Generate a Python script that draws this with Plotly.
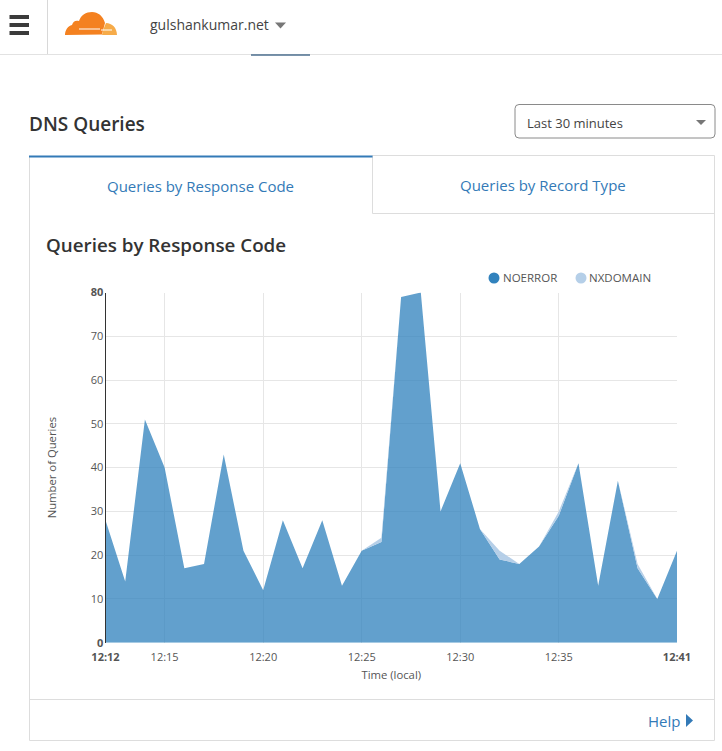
import plotly.graph_objects as go

W = 722
H = 751

minutes = ["12:12", "12:13", "12:14", "12:15", "12:16", "12:17", "12:18", "12:19", "12:20", "12:21",
           "12:22", "12:23", "12:24", "12:25", "12:26", "12:27", "12:28", "12:29", "12:30", "12:31",
           "12:32", "12:33", "12:34", "12:35", "12:36", "12:37", "12:38", "12:39", "12:40", "12:41"]
noerror = [28, 14, 51, 40, 17, 18, 43, 21, 12, 28,
           17, 28, 13, 21, 23, 79, 80, 30, 41, 26,
           19, 18, 22, 29, 41, 13, 37, 17, 10, 21]
nxdomain = [0, 0, 0, 0, 0, 0, 0, 0, 0, 0,
            0, 0, 0, 0, 1, 0, 0, 0, 0, 0,
            2, 0, 0, 1, 0, 0, 0, 1, 0, 0]
x_ticks = ["12:12", "12:15", "12:20", "12:25", "12:30", "12:35", "12:41"]
x_tick_labels = ["<b>12:12</b>", "12:15", "12:20", "12:25", "12:30", "12:35", "<b>12:41</b>"]
x_grid = ["12:15", "12:20", "12:25", "12:30", "12:35"]
y_ticks = [0, 10, 20, 30, 40, 50, 60, 70, 80]
y_tick_labels = ["<b>0</b>", "10", "20", "30", "40", "50", "60", "70", "<b>80</b>"]

FONT = "Open Sans"
BLUE = "#337ab7"
DARK = "#333333"
BORDER = "#dddddd"
NOERROR_KEY = "#3182bd"
NXDOMAIN_KEY = "#b5cfe8"


def t(m):
    return "2021-01-01 " + m


def px(x):
    return x / W


def py(y):
    return 1 - y / H


def line(x0, y0, x1, y1, color=BORDER, width=1):
    return dict(type="line", xref="paper", yref="paper", x0=px(x0), y0=py(y0), x1=px(x1), y1=py(y1),
                line=dict(color=color, width=width), layer="below")


def rect(x0, y0, x1, y1, color):
    return dict(type="rect", xref="paper", yref="paper", x0=px(x0), y0=py(y0), x1=px(x1), y1=py(y1),
                fillcolor=color, line=dict(width=0))


def dot(cx, cy, r, color):
    return dict(type="circle", xref="paper", yref="paper", x0=px(cx - r), y0=py(cy + r), x1=px(cx + r), y1=py(cy - r),
                fillcolor=color, line=dict(width=0))


def path(points, color):
    # points in page pixels, straight segments
    d = "M " + " L ".join(f"{px(a):.5f},{py(b):.5f}" for a, b in points) + " Z"
    return dict(type="path", xref="paper", yref="paper", path=d, fillcolor=color, line=dict(width=0))


def curve(d, color):
    # d holds tuples of (command, x, y, ...) in page pixels
    out = []
    for seg in d:
        nums = seg[1:]
        pairs = [f"{px(nums[i]):.5f},{py(nums[i + 1]):.5f}" for i in range(0, len(nums), 2)]
        out.append(seg[0] + " " + " ".join(pairs))
    return dict(type="path", xref="paper", yref="paper", path=" ".join(out) + " Z",
                fillcolor=color, line=dict(width=0))


def label(x, y, text, size=14, color=DARK, anchor="left", weight=400):
    return dict(xref="paper", yref="paper", x=px(x), y=py(y), text=text, showarrow=False,
                xanchor=anchor, yanchor="middle", font=dict(family=FONT, size=size, color=color, weight=weight))


fig = go.Figure()
fig.add_trace(go.Scatter(x=[t(m) for m in minutes], y=noerror, name="NOERROR", mode="lines",
                         stackgroup="one", line=dict(width=0, color=NOERROR_KEY),
                         fillcolor="rgba(49,130,189,0.76)"))
fig.add_trace(go.Scatter(x=[t(m) for m in minutes], y=nxdomain, name="NXDOMAIN", mode="lines",
                         stackgroup="one", line=dict(width=0, color=NXDOMAIN_KEY),
                         fillcolor="rgba(174,202,230,0.9)"))

shapes = [
    # header
    line(0, 54.5, W, 54.5, "#e2e2e2"),
    line(47.5, 0, 47.5, 54, "#d8d8d8"),
    line(251, 55, 310, 55, "#4d6f8f", 1.5),
    rect(9.5, 15, 29, 19, "#3b3b3b"),
    rect(9.5, 23, 29, 27, "#3b3b3b"),
    rect(9.5, 31, 29, 35, "#3b3b3b"),
    # logo
    curve([("M", 65, 35), ("C", 65, 30, 68, 26, 72, 25), ("C", 73, 21, 76, 20, 79, 21),
           ("C", 81, 15, 86, 12, 92, 12), ("C", 98, 12, 103, 16, 105, 23),
           ("L", 102, 34.5), ("L", 65, 35)], "#f48120"),
    curve([("M", 102, 35), ("C", 103, 31, 104, 27, 106, 23), ("C", 112, 23, 117, 28, 117, 35)], "#f6ab49"),
    rect(79, 28.5, 100, 29.5, "#ffffff"),
    rect(101, 29.5, 112, 30.5, "#ffffff"),
    # drop arrows
    path([(275, 22.5), (286, 22.5), (280.5, 28.5)], "#777777"),
    path([(696, 120), (706, 120), (701, 125)], "#777777"),
    # select box
    dict(type="path", xref="paper", yref="paper", fillcolor="rgba(0,0,0,0)", line=dict(color="#8a8a8a", width=1),
         path=f"M {px(519)},{py(104.5)} L {px(711)},{py(104.5)} Q {px(715)},{py(104.5)} {px(715)},{py(108.5)} "
              f"L {px(715)},{py(134)} Q {px(715)},{py(138)} {px(711)},{py(138)} L {px(519)},{py(138)} "
              f"Q {px(515)},{py(138)} {px(515)},{py(134)} L {px(515)},{py(108.5)} Q {px(515)},{py(104.5)} {px(519)},{py(104.5)} Z"),
    # panel
    line(29.5, 156, 29.5, 740.5),
    line(714.5, 155.5, 714.5, 740.5),
    line(29.5, 740.5, 714.5, 740.5),
    line(372, 155.5, 714.5, 155.5),
    line(372.5, 156, 372.5, 213.5),
    line(372.5, 213.5, 714.5, 213.5),
    line(29.5, 699.5, 714.5, 699.5),
    line(29, 156.5, 372.5, 156.5, BLUE, 2),
    path([(686, 714), (693, 720.5), (686, 727)], BLUE),
    # legend keys
    dot(494, 278, 5.5, NOERROR_KEY),
    dot(581, 278, 5.5, NXDOMAIN_KEY),
]

annotations = [
    label(148, 25, "gulshankumar.net", 14, "#444444"),
    label(27, 123.5, "DNS Queries", 19, DARK, weight=600),
    label(525, 123, "Last 30 minutes", 13, "#444444"),
    label(200.5, 186, "Queries by Response Code", 15, BLUE, "center"),
    label(543, 185, "Queries by Record Type", 15, BLUE, "center"),
    label(44, 244.5, "Queries by Response Code", 18.8, DARK, weight=600),
    label(681.5, 720.5, "Help", 15, BLUE, "right"),
    label(501, 277.5, "NOERROR", 11.5, "#555555"),
    label(587, 277.5, "NXDOMAIN", 11.5, "#555555"),
]

fig.update_layout(
    width=W,
    height=H,
    autosize=False,
    margin=dict(l=0, r=0, t=0, b=0, autoexpand=False),
    paper_bgcolor="white",
    plot_bgcolor="white",
    font=dict(family=FONT, size=11, color="#555555"),
    shapes=shapes,
    annotations=annotations,
    showlegend=False,
    xaxis=dict(domain=[px(105.5), px(677)], range=[t("12:12"), t("12:41")], type="date",
               tickmode="array", tickvals=[t(m) for m in x_ticks], ticktext=x_tick_labels,
               showgrid=False, ticks="", zeroline=False, showline=False, ticklabelstandoff=6,
               minor=dict(tickmode="array", tickvals=[t(m) for m in x_grid], showgrid=True, gridcolor="#e6e6e6", gridwidth=1),
               title=dict(text="Time (local)", font=dict(size=11.3, color="#555555"), standoff=8)),
    yaxis=dict(domain=[py(642.7), py(292.5)], range=[0, 80], tickmode="array", tickvals=y_ticks, ticktext=y_tick_labels,
               gridcolor="#e6e6e6", gridwidth=1, zeroline=False, showline=True, linecolor="#333333", linewidth=1,
               ticks="", ticklabelstandoff=-1,
               title=dict(text="Number of Queries", font=dict(size=11.3, color="#555555"), standoff=31)),
)

fig.write_html("out.html", config={"displayModeBar": False},
               post_script="document.body.style.margin='0';")
